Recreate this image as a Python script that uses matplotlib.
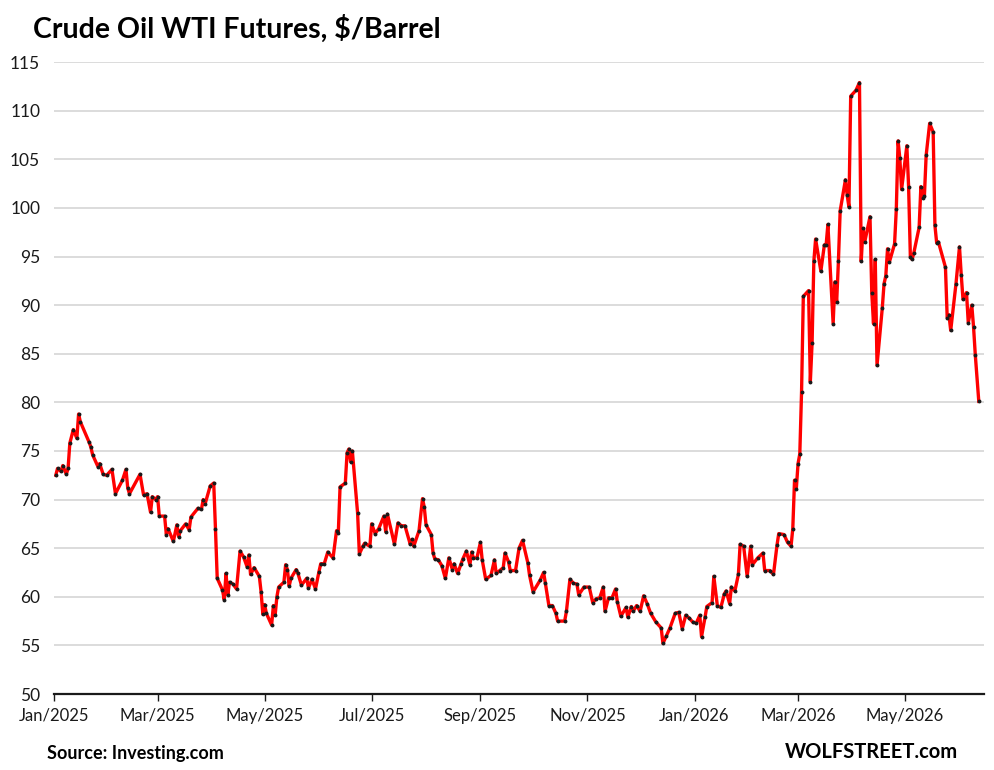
import numpy as np
import pandas as pd
import matplotlib
matplotlib.use('Agg')
import matplotlib.pyplot as plt
import matplotlib.dates as mdates

plt.rcParams['font.family'] = ['Lato', 'DejaVu Sans']

# daily WTI settlements (month-day, $/barrel)
days_2025 = [
    '01-02', '01-03', '01-05', '01-06', '01-08', '01-09', '01-10', '01-12', '01-14', '01-15',
    '01-16', '01-21', '01-22', '01-23', '01-26', '01-27', '01-29', '01-31', '02-03', '02-05',
    '02-09', '02-11', '02-12', '02-13', '02-19', '02-21', '02-23', '02-25', '02-26', '02-28',
    '03-01', '03-02', '03-05', '03-06', '03-07', '03-10', '03-12', '03-13', '03-14', '03-17',
    '03-19', '03-20', '03-24', '03-26', '03-27', '03-28', '03-31', '04-02', '04-03', '04-04',
    '04-07', '04-08', '04-09', '04-10', '04-11', '04-13', '04-15', '04-17', '04-19', '04-21',
    '04-22', '04-23', '04-25', '04-28', '04-29', '04-30', '05-01', '05-02', '05-05', '05-06',
    '05-07', '05-08', '05-09', '05-12', '05-13', '05-14', '05-15', '05-16', '05-19', '05-20',
    '05-22', '05-25', '05-26', '05-28', '05-30', '06-01', '06-02', '06-04', '06-06', '06-09',
    '06-11', '06-12', '06-13', '06-16', '06-17', '06-18', '06-19', '06-20', '06-23', '06-24',
    '06-26', '06-27', '06-30', '07-01', '07-03', '07-05', '07-08', '07-09', '07-10', '07-14',
    '07-16', '07-18', '07-20', '07-23', '07-24', '07-25', '07-28', '07-30', '07-31', '08-01',
    '08-04', '08-05', '08-06', '08-08', '08-10', '08-12', '08-14', '08-16', '08-17', '08-19',
    '08-21', '08-22', '08-24', '08-26', '08-27', '08-28', '08-30', '09-01', '09-02', '09-04',
    '09-07', '09-09', '09-10', '09-12', '09-14', '09-15', '09-17', '09-18', '09-21', '09-23',
    '09-25', '09-28', '09-29', '10-01', '10-05', '10-07', '10-08', '10-10', '10-12', '10-14',
    '10-15', '10-19', '10-20', '10-22', '10-24', '10-26', '10-27', '10-30', '11-02', '11-04',
    '11-06', '11-08', '11-10', '11-11', '11-13', '11-15', '11-17', '11-18', '11-20', '11-23',
    '11-24', '11-26', '11-27', '11-29', '12-01', '12-03', '12-05', '12-07', '12-10', '12-13',
    '12-14', '12-16', '12-18', '12-21', '12-23', '12-25', '12-27', '12-29', '12-31',
]
prices_2025 = [
    72.5, 73.2, 72.9, 73.5, 72.6, 73.2, 75.8, 77.2, 76.3, 78.8,
    78.0, 75.9, 75.4, 74.6, 73.4, 73.7, 72.6, 72.5, 73.1, 70.6,
    72.0, 73.1, 71.2, 70.6, 72.6, 70.5, 70.6, 68.7, 70.3, 70.0,
    70.3, 68.3, 68.3, 66.4, 67.0, 65.7, 67.4, 66.2, 66.8, 67.5,
    66.9, 68.2, 69.1, 69.0, 70.0, 69.5, 71.4, 71.7, 67.0, 61.9,
    60.7, 59.7, 62.4, 60.2, 61.5, 61.3, 60.8, 64.7, 64.1, 63.1,
    64.3, 62.3, 63.0, 62.1, 60.5, 58.2, 59.2, 58.3, 57.1, 59.1,
    58.1, 60.0, 61.0, 61.5, 63.3, 62.8, 61.1, 61.9, 62.8, 62.4,
    61.2, 61.9, 60.9, 61.8, 60.8, 62.6, 63.4, 63.4, 64.6, 64.0,
    66.8, 66.6, 71.3, 71.7, 74.8, 75.2, 73.9, 75.0, 68.6, 64.4,
    65.2, 65.5, 65.2, 67.5, 66.5, 67.0, 68.3, 66.7, 68.5, 65.4,
    67.6, 67.3, 67.3, 65.4, 65.9, 65.2, 66.8, 70.1, 69.2, 67.4,
    66.4, 64.5, 63.9, 63.8, 63.2, 61.9, 64.0, 62.8, 63.4, 62.4,
    63.4, 63.9, 64.7, 63.3, 64.6, 64.0, 64.0, 65.6, 63.8, 61.8,
    62.2, 63.8, 62.4, 62.7, 63.0, 64.5, 63.6, 62.7, 62.7, 65.0,
    65.8, 63.5, 62.2, 60.5, 61.7, 62.5, 61.4, 59.1, 59.1, 58.3,
    57.5, 57.5, 58.5, 61.8, 61.4, 61.3, 60.2, 61.0, 61.0, 59.4,
    59.8, 59.9, 61.0, 58.5, 59.9, 59.9, 60.8, 59.5, 58.0, 58.9,
    57.9, 59.0, 58.5, 59.1, 58.5, 60.1, 59.3, 58.3, 57.4, 56.8,
    55.2, 56.0, 56.8, 58.3, 58.4, 56.7, 58.1, 57.8, 57.4,
]
days_2026 = [
    '01-02', '01-04', '01-05', '01-07', '01-08', '01-11', '01-12', '01-14', '01-16', '01-18',
    '01-19', '01-21', '01-22', '01-24', '01-26', '01-27', '01-29', '01-31', '02-02', '02-03',
    '02-06', '02-09', '02-10', '02-13', '02-15', '02-17', '02-18', '02-21', '02-23', '02-25',
    '02-26', '02-27', '02-28', '03-01', '03-02', '03-03', '03-04', '03-07', '03-08', '03-09',
    '03-10', '03-11', '03-14', '03-16', '03-17', '03-18', '03-21', '03-22', '03-23', '03-24',
    '03-25', '03-28', '03-29', '03-30', '03-31', '04-03', '04-05', '04-06', '04-07', '04-08',
    '04-11', '04-12', '04-13', '04-14', '04-15', '04-18', '04-19', '04-20', '04-21', '04-22',
    '04-25', '04-26', '04-27', '04-28', '04-29', '05-02', '05-03', '05-04', '05-05', '05-06',
    '05-09', '05-10', '05-11', '05-12', '05-13', '05-15', '05-17', '05-18', '05-19', '05-20',
    '05-24', '05-25', '05-26', '05-27', '05-30', '06-01', '06-02', '06-03', '06-05', '06-06',
    '06-08', '06-09', '06-10', '06-12',
]
prices_2026 = [
    57.3, 58.1, 55.9, 57.9, 59.0, 59.4, 62.1, 59.1, 58.9, 60.3,
    60.6, 59.3, 61.0, 60.6, 62.3, 65.4, 65.2, 62.1, 65.2, 63.3,
    64.0, 64.5, 62.7, 62.7, 62.3, 65.3, 66.5, 66.4, 65.6, 65.2,
    67.0, 72.0, 71.1, 73.7, 74.7, 81.1, 90.9, 91.5, 82.1, 86.1,
    94.5, 96.8, 93.5, 96.2, 96.2, 98.3, 88.1, 92.4, 90.3, 94.5,
    99.7, 102.9, 101.3, 100.1, 111.5, 112.1, 112.9, 94.5, 97.9, 96.5,
    99.1, 91.3, 88.1, 94.7, 83.8, 89.7, 92.2, 93.0, 95.8, 94.4,
    96.3, 99.9, 106.9, 105.1, 101.9, 106.4, 102.2, 95.0, 94.7, 95.4,
    98.0, 102.2, 101.0, 101.2, 105.4, 108.7, 107.8, 98.2, 96.4, 96.5,
    93.9, 88.7, 89.0, 87.4, 92.2, 96.0, 93.1, 90.6, 91.3, 88.2,
    90.0, 87.8, 84.9, 80.1,
]

dates = pd.to_datetime(['2025-' + d for d in days_2025] + ['2026-' + d for d in days_2026])
prices = prices_2025 + prices_2026

fig = plt.figure(figsize=(9.95, 7.7), dpi=100)
ax = fig.add_axes([0.0543, 0.0987, 0.9347, 0.8206])

ax.plot(dates, prices, color='#ff0000', lw=2.4, zorder=3,
        marker='o', markersize=1.8, markerfacecolor='#1a1a1a', markeredgecolor='#1a1a1a',
        solid_joinstyle='round')

ax.set_ylim(50, 115)
ax.set_yticks(np.arange(50, 116, 5))
ax.set_xlim(pd.Timestamp('2025-01-01'), pd.Timestamp('2026-06-15'))
ax.xaxis.set_major_locator(mdates.MonthLocator(bymonth=[1, 3, 5, 7, 9, 11]))
ax.xaxis.set_major_formatter(mdates.DateFormatter('%b/%Y'))

ax.grid(axis='y', color='#d9d9d9', lw=1.3)
ax.set_axisbelow(True)
for s in ['top', 'right', 'left']:
    ax.spines[s].set_visible(False)
ax.spines['bottom'].set_color('#1a1a1a')
ax.spines['bottom'].set_linewidth(1.6)
ax.spines['bottom'].set_zorder(4)

ax.tick_params(axis='y', length=0, pad=10, labelsize=12.5, labelcolor='#1a1a1a')
ax.tick_params(axis='x', length=5, width=1, color='#1a1a1a', pad=5,
               labelsize=12, labelcolor='#1a1a1a')

fig.text(0.033, 0.962, 'Crude Oil WTI Futures, $/Barrel', fontsize=20.5, fontweight='bold',
         va='center', ha='left', color='black')
fig.text(0.047, 0.022, 'Source: Investing.com', fontsize=13, fontweight='bold',
         va='center', ha='left', color='black')
fig.text(0.963, 0.024, 'WOLFSTREET.com', fontsize=14.5, fontweight='bold',
         va='center', ha='right', color='black')

fig.savefig('out.png', dpi=100)
